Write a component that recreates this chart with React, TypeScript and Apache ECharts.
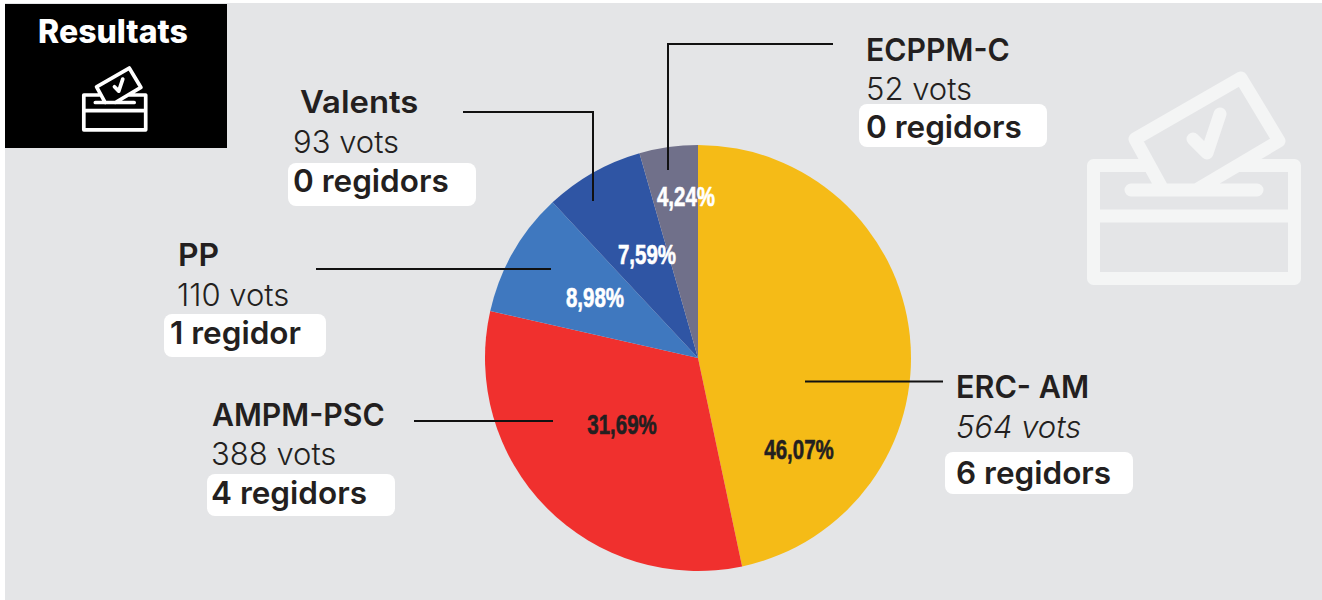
import React, { useEffect, useRef } from "react";
import * as echarts from "echarts";

const parties = ["ERC- AM", "AMPM-PSC", "PP", "Valents", "ECPPM-C"];
// Slice sizes as measured on the picture (share of the circle, %)
const sliceShares = [46.68, 31.86, 9.5, 7.53, 4.43];
const voteLabels = ["564 vots", "388 vots", "110 vots", "93 vots", "52 vots"];
const seatLabels = ["6 regidors", "4 regidors", "1 regidor", "0 regidors", "0 regidors"];
const percentLabels = ["46,07%", "31,69%", "8,98%", "7,59%", "4,24%"];
const sliceColors = ["#f5bb17", "#f0302e", "#3f78bf", "#2f55a4", "#70708a"];
const percentColors = ["#231f20", "#231f20", "#ffffff", "#ffffff", "#ffffff"];
const percentPos = [[799, 449], [622, 424], [595, 297], [647, 254], [686, 196]];

const nameX = [956, 212, 178, 300, 866];
const nameY = [386, 414, 255, 102, 49];
const nameScale = [0.985, 0.975, 1.03, 1.06, 0.975];
const voteX = [956, 211, 177, 293, 866];
const voteY = [426, 453, 294, 141, 88];
const seatX = [956, 211, 170, 293, 866];
const seatY = [472, 492, 332, 180, 126];
const boxes = [[945, 452, 188, 42], [207, 474, 188, 42], [164, 314, 162, 43], [288, 163, 188, 43], [859, 104, 188, 43]];
const leaders = [
  [[805, 381.5], [943, 381.5]],
  [[414, 421], [553, 421]],
  [[316, 269], [551, 269]],
  [[463, 112], [593, 112], [593, 201]],
  [[833, 44], [668, 44], [668, 170]],
];

const ICON =
  "M1149 165.5 L1093.5 165.5 L1093.5 278.5 L1294.5 278.5 L1294.5 165.5 L1238 165.5 " +
  "M1093.5 216 L1294.5 216 M1131 190 L1257 190 " +
  "M1163 190 L1135 139 L1241 78 L1279 141 L1196 190 " +
  "M1193 139 L1207 153 L1220 114";

echarts.graphic.registerShape("ballot", echarts.graphic.extendPath(ICON, {}));

const FONT = "Inter";
const CHART_W = 1322;
const CHART_H = 600;

export default function App() {
  const ref = useRef<HTMLDivElement>(null);
  useEffect(() => {
    const chart = echarts.init(ref.current!, null, { renderer: "svg", width: CHART_W, height: CHART_H });
    const ink = "#231f20";
    const graphics: any[] = [
      { type: "rect", silent: true, z: -10, shape: { x: 5, y: 3, width: 1317, height: 597 }, style: { fill: "#e4e5e7" } },
      { type: "rect", silent: true, z: -9, shape: { x: 5, y: 4, width: 222, height: 144 }, style: { fill: "#000000" } },
      { type: "text", z: 5, x: 113, y: 31, style: { text: "Resultats", fill: "#ffffff", font: `800 32px ${FONT}`, align: "center", verticalAlign: "middle" } },
      { type: "ballot", z: 5, x: -253, y: 44, scaleX: 0.308, scaleY: 0.308, style: { fill: "none", stroke: "#ffffff", lineWidth: 12, lineCap: "round", lineJoin: "round" } },
      { type: "ballot", z: -5, x: 0, y: 0, style: { fill: "none", stroke: "#f4f5f5", lineWidth: 13, lineCap: "round", lineJoin: "round" } },
    ];
    parties.forEach((p, i) => {
      const [bx, by, bw, bh] = boxes[i];
      graphics.push(
        { type: "rect", z: 3, shape: { x: bx, y: by, width: bw, height: bh, r: 8 }, style: { fill: "#ffffff" } },
        { type: "text", z: 5, x: nameX[i], y: nameY[i], scaleX: nameScale[i], style: { text: p, fill: ink, font: `600 31px ${FONT}`, verticalAlign: "middle" } },
        { type: "text", z: 5, x: voteX[i], y: voteY[i], style: { text: voteLabels[i], fill: ink, font: `${i === 0 ? "italic " : ""}300 31px ${FONT}`, verticalAlign: "middle" } },
        { type: "text", z: 5, x: seatX[i], y: seatY[i], style: { text: seatLabels[i], fill: ink, font: `600 31.5px ${FONT}`, verticalAlign: "middle" } },
        { type: "polyline", z: 6, shape: { points: leaders[i] }, style: { fill: "none", stroke: "#111111", lineWidth: 2 } },
      );
      const [px, py] = percentPos[i];
      graphics.push({
        type: "text", z: 6, x: px, y: py, scaleX: 0.76, scaleY: 1,
        style: { text: percentLabels[i], fill: percentColors[i], stroke: percentColors[i], lineWidth: 0.6, font: `700 27px "Liberation Sans"`, align: "center", verticalAlign: "middle" },
      });
    });
    chart.setOption({
      animation: false,
      backgroundColor: "#ffffff",
      graphic: { elements: graphics },
      series: [
        {
          type: "pie",
          center: [698, 358],
          radius: [0, 213],
          startAngle: 90,
          clockwise: true,
          silent: true,
          label: { show: false },
          labelLine: { show: false },
          itemStyle: { borderWidth: 0 },
          data: parties.map((name, i) => ({ name, value: sliceShares[i], itemStyle: { color: sliceColors[i] } })),
        },
      ],
    });
    return () => chart.dispose();
  }, []);
  return <div ref={ref} style={{ position: "fixed", left: 0, top: 0, width: CHART_W, height: CHART_H }} />;
}
